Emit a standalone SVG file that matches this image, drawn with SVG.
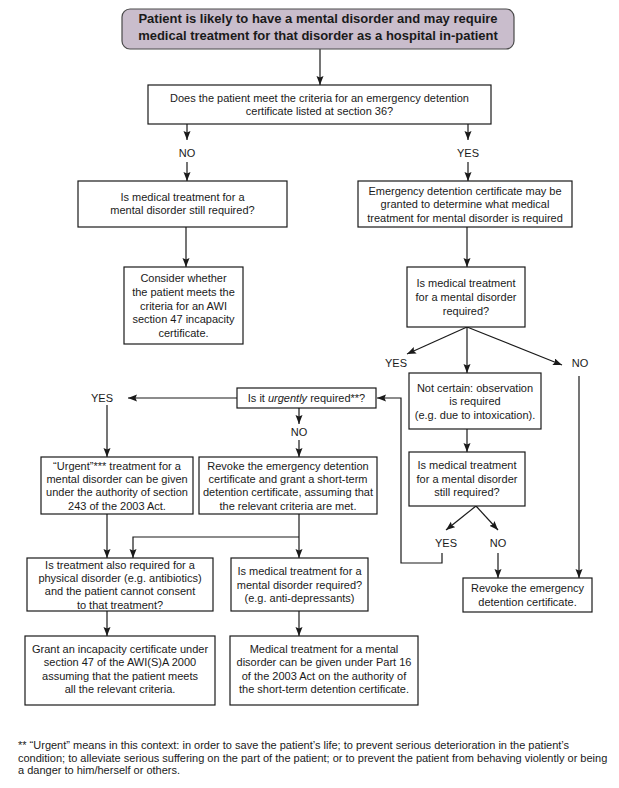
<svg xmlns="http://www.w3.org/2000/svg" width="619" height="788" viewBox="0 0 619 788">
<style>
.bx{fill:#fff;stroke:#1a1a1a;stroke-width:1.2}
.tt{fill:#c9bdcc;stroke:#4a4a4a;stroke-width:1.2}
text{font-family:"Liberation Sans",Arial,Helvetica,sans-serif;fill:#1a1a1a}
.t{font-size:11px;text-anchor:middle}
.h{font-size:13px;font-weight:bold;text-anchor:middle}
.l{font-size:11px;text-anchor:middle}
.f{font-size:11px}
.cn path{fill:none;stroke:#1a1a1a;stroke-width:1.2;marker-end:url(#ah)}
</style>
<defs>
<marker id="ah" markerUnits="userSpaceOnUse" markerWidth="10" markerHeight="8" refX="9" refY="3.5" orient="auto">
<path d="M0,0 L9,3.5 L0,7 L1.5,3.5 Z" fill="#1a1a1a"/>
</marker>
</defs>
<rect width="619" height="788" fill="#fff"/>
<g id="connectors" class="cn">
<path d="M320,49 V85"/>
<path d="M187,124 V140"/>
<path d="M187,162 V181"/>
<path d="M468,124 V140"/>
<path d="M468,162 V181"/>
<path d="M186,227 V267"/>
<path d="M467,227 V267"/>
<path d="M467,327 L407,354"/>
<path d="M467,327 V373"/>
<path d="M467,327 L562,365"/>
<path d="M579,376 V578"/>
<path d="M467,429 V452"/>
<path d="M476,506 L446,530"/>
<path d="M476,506 L498,530"/>
<path d="M498,553 V578"/>
<path d="M442,553 V563 H401 V398 H377"/>
<path d="M237,398 H128"/>
<path d="M107,405 V457"/>
<path d="M299,408 V424"/>
<path d="M299,440 V457"/>
<path d="M107,514 V558"/>
<path d="M299,514 V558"/>
<path d="M299,537 H133 V558"/>
<path d="M107,611 V636"/>
<path d="M299,611 V636"/>
</g>
<g id="labels">
<text class="l" x="187" y="157">NO</text>
<text class="l" x="468" y="157">YES</text>
<text class="l" x="396" y="367">YES</text>
<text class="l" x="580" y="367">NO</text>
<text class="l" x="102" y="402">YES</text>
<text class="l" x="299" y="436">NO</text>
<text class="l" x="446" y="547">YES</text>
<text class="l" x="498" y="547">NO</text>
</g>
<g id="n-start">
<rect class="tt" x="122" y="9" width="392" height="40" rx="8"/>
<text class="h" x="318" y="23">Patient is likely to have a mental disorder and may require</text>
<text class="h" x="318" y="40">medical treatment for that disorder as a hospital in-patient</text>
</g>
<g id="n-criteria">
<rect class="bx" x="148" y="85" width="343" height="39"/>
<text class="t" x="319.5" y="102">Does the patient meet the criteria for an emergency detention</text>
<text class="t" x="319.5" y="115">certificate listed at section 36?</text>
</g>
<g id="n-still-required-left">
<rect class="bx" x="78" y="181" width="209" height="46"/>
<text class="t" x="182.5" y="200.5">Is medical treatment for a</text>
<text class="t" x="182.5" y="214">mental disorder still required?</text>
</g>
<g id="n-edc-granted">
<rect class="bx" x="358" y="181" width="214" height="46"/>
<text class="t" x="465" y="194.5">Emergency detention certificate may be</text>
<text class="t" x="465" y="208">granted to determine what medical</text>
<text class="t" x="465" y="221.5">treatment for mental disorder is required</text>
</g>
<g id="n-consider-awi">
<rect class="bx" x="124" y="267" width="119" height="77"/>
<text class="t" x="183.5" y="282">Consider whether</text>
<text class="t" x="183.5" y="295.5">the patient meets the</text>
<text class="t" x="183.5" y="309.5">criteria for an AWI</text>
<text class="t" x="183.5" y="323">section 47 incapacity</text>
<text class="t" x="183.5" y="337">certificate.</text>
</g>
<g id="n-treatment-required">
<rect class="bx" x="407" y="267" width="118" height="60"/>
<text class="t" x="466" y="287">Is medical treatment</text>
<text class="t" x="466" y="301">for a mental disorder</text>
<text class="t" x="466" y="314.5">required?</text>
</g>
<g id="n-not-certain">
<rect class="bx" x="409" y="373" width="132" height="56"/>
<text class="t" x="475" y="391.5">Not certain: observation</text>
<text class="t" x="475" y="405">is required</text>
<text class="t" x="475" y="418.5">(e.g. due to intoxication).</text>
</g>
<g id="n-still-required-right">
<rect class="bx" x="409" y="452" width="116" height="54"/>
<text class="t" x="467" y="469">Is medical treatment</text>
<text class="t" x="467" y="482.5">for a mental disorder</text>
<text class="t" x="467" y="496">still required?</text>
</g>
<g id="n-urgently">
<rect class="bx" x="237" y="388" width="139" height="20"/>
<text class="t" x="306.5" y="402">Is it <tspan font-style="italic">urgently</tspan> required**?</text>
</g>
<g id="n-urgent-treatment">
<rect class="bx" x="41" y="457" width="152" height="57"/>
<text class="t" x="117" y="469.5">“Urgent”*** treatment for a</text>
<text class="t" x="117" y="483">mental disorder can be given</text>
<text class="t" x="117" y="496">under the authority of section</text>
<text class="t" x="117" y="509.5">243 of the 2003 Act.</text>
</g>
<g id="n-revoke-grant-std">
<rect class="bx" x="199" y="457" width="178" height="57"/>
<text class="t" x="288" y="469.5">Revoke the emergency detention</text>
<text class="t" x="288" y="483">certificate and grant a short-term</text>
<text class="t" x="288" y="496">detention certificate, assuming that</text>
<text class="t" x="288" y="509.5">the relevant criteria are met.</text>
</g>
<g id="n-revoke">
<rect class="bx" x="463" y="578" width="129" height="34"/>
<text class="t" x="527.5" y="592">Revoke the emergency</text>
<text class="t" x="527.5" y="605.5">detention certificate.</text>
</g>
<g id="n-physical">
<rect class="bx" x="27" y="558" width="186" height="53"/>
<text class="t" x="120" y="568.5">Is treatment also required for a</text>
<text class="t" x="120" y="582">physical disorder (e.g. antibiotics)</text>
<text class="t" x="120" y="595">and the patient cannot consent</text>
<text class="t" x="120" y="608.5">to that treatment?</text>
</g>
<g id="n-antidepressants">
<rect class="bx" x="231" y="558" width="137" height="53"/>
<text class="t" x="299.5" y="575">Is medical treatment for a</text>
<text class="t" x="299.5" y="588.5">mental disorder required?</text>
<text class="t" x="299.5" y="602">(e.g. anti-depressants)</text>
</g>
<g id="n-incapacity">
<rect class="bx" x="25" y="636" width="190" height="69"/>
<text class="t" x="120" y="652.5">Grant an incapacity certificate under</text>
<text class="t" x="120" y="666">section 47 of the AWI(S)A 2000</text>
<text class="t" x="120" y="679.5">assuming that the patient meets</text>
<text class="t" x="120" y="693">all the relevant criteria.</text>
</g>
<g id="n-part16">
<rect class="bx" x="230" y="636" width="188" height="69"/>
<text class="t" x="324" y="652.5">Medical treatment for a mental</text>
<text class="t" x="324" y="666">disorder can be given under Part 16</text>
<text class="t" x="324" y="679.5">of the 2003 Act on the authority of</text>
<text class="t" x="324" y="693">the short-term detention certificate.</text>
</g>
<g id="footnote">
<text class="f" x="18" y="749">** “Urgent” means in this context: in order to save the patient’s life; to prevent serious deterioration in the patient’s</text>
<text class="f" x="18" y="761.5">condition; to alleviate serious suffering on the part of the patient; or to prevent the patient from behaving violently or being</text>
<text class="f" x="18" y="774">a danger to him/herself or others.</text>
</g>
</svg>
